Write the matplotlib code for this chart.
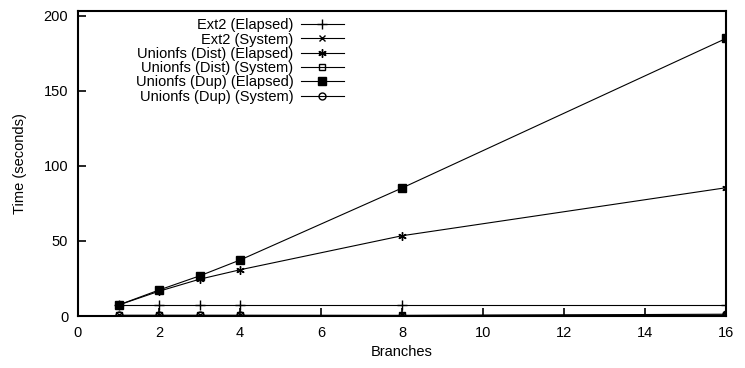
import matplotlib
matplotlib.use('Agg')
import matplotlib.pyplot as plt

branches = [1, 2, 3, 4, 8, 16]
ext2_elapsed = [7.5, 7.5, 7.5, 7.5, 7.5, 7.5]
ext2_system = [0.4, 0.4, 0.4, 0.4, 0.4, 0.4]
dist_elapsed = [7.3, 16.5, 24.5, 30.8, 53.5, 85.5]
dist_system = [0.4, 0.4, 0.4, 0.4, 0.4, 0.6]
dup_elapsed = [7.3, 17.3, 26.7, 37.3, 85.3, 185.0]
dup_system = [0.4, 0.4, 0.4, 0.4, 0.3, 1.2]

plt.rcParams['font.family'] = ['Liberation Sans', 'DejaVu Sans']
plt.rcParams['font.size'] = 10.5

fig = plt.figure(figsize=(7.45, 3.68), dpi=100)
ax = fig.add_axes([78/745, 52/368, 648/745, 305/368])

ax.plot(branches, ext2_elapsed, marker='+', label='Ext2 (Elapsed)', markersize=7, color='black', lw=0.8)
ax.plot(branches, ext2_system, marker='x', label='Ext2 (System)', markersize=5, color='black', lw=0.8)
ax.plot(branches, dist_elapsed, marker=(6, 2, 0), label='Unionfs (Dist) (Elapsed)', markersize=6, color='black', lw=0.8)
ax.plot(branches, dist_system, marker='s', fillstyle='none', label='Unionfs (Dist) (System)', markersize=5, color='black', lw=0.8)
ax.plot(branches, dup_elapsed, marker='s', label='Unionfs (Dup) (Elapsed)', markersize=6, color='black', lw=0.8)
ax.plot(branches, dup_system, marker='o', fillstyle='none', label='Unionfs (Dup) (System)', markersize=5, color='black', lw=0.8)

ax.set_xlim(0, 16)
ax.set_ylim(0, 203.3)
ax.set_xticks(range(0, 17, 2))
ax.set_yticks(range(0, 201, 50))
ax.tick_params(direction='in', length=6, width=1.2, top=False, right=False, pad=7)
for s in ax.spines.values():
    s.set_linewidth(1.5)

ax.set_xlabel('Branches', labelpad=4)
ax.set_ylabel('Time (seconds)', labelpad=12)

ax.legend(loc='upper right', bbox_to_anchor=(354/745, 1 - 8/368),
          bbox_transform=fig.transFigure, frameon=False,
          markerfirst=False, handlelength=2.95, handletextpad=0.5,
          labelspacing=0.02, borderpad=0.2, fontsize=10.5)

fig.savefig('out.png', dpi=100)
